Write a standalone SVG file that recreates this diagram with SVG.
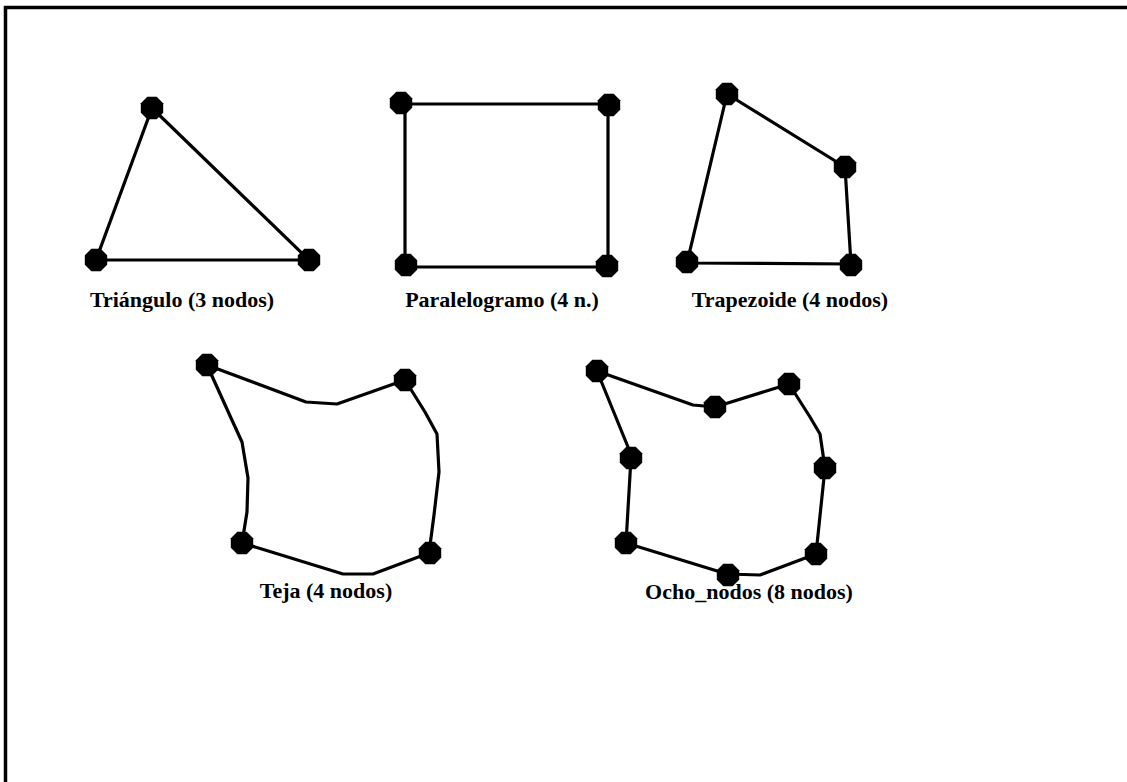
<svg xmlns="http://www.w3.org/2000/svg" xmlns:xlink="http://www.w3.org/1999/xlink" width="1127" height="782" viewBox="0 0 1127 782">
<style>
.e{fill:none;stroke:#000;stroke-width:3.2;stroke-linejoin:round;stroke-linecap:round}
.lbl{font-family:"Liberation Serif","Times New Roman",serif;font-weight:bold;font-size:22px;fill:#000;text-anchor:middle}
.nd{fill:#000}
</style>
<defs>
<polygon id="oct" points="-4.7,-11.2 4.7,-11.2 11.2,-4.7 11.2,4.7 4.7,11.2 -4.7,11.2 -11.2,4.7 -11.2,-4.7"/>
</defs>
<rect width="1127" height="782" fill="#fff"/>
<path d="M5.5,782 V7.5 H1127" fill="none" stroke="#000" stroke-width="3.5"/>

<g id="connectors">
  <!-- Triangulo -->
  <path class="e" d="M152,108 L96,260 L309,260 Z"/>
  <!-- Paralelogramo -->
  <path class="e" d="M402,104 H608 V267 H405 V104"/>
  <!-- Trapezoide -->
  <path class="e" d="M727,94 L845,167 L851,264 L687,263 Z"/>
  <!-- Teja -->
  <path class="e" d="M207,365 L306,402 L337,404 L405,380"/>
  <path class="e" d="M405,380 L425,412 L437,434 L439,472 L434,515 L429,553"/>
  <path class="e" d="M242,543 L343,574 L373,574 L429,553"/>
  <path class="e" d="M207,365 L231,418 L242,442 L248,478 L247,512 L242,543"/>
  <!-- Ocho_nodos -->
  <path class="e" d="M597,371 L693,405 L715,407"/>
  <path class="e" d="M715,407 L789,384"/>
  <path class="e" d="M789,384 L810,417 L820,434 L825,468"/>
  <path class="e" d="M825,468 L816,554"/>
  <path class="e" d="M816,554 L760,575 L727,574"/>
  <path class="e" d="M727,574 L626,543"/>
  <path class="e" d="M626,543 L631,458"/>
  <path class="e" d="M631,458 L628,447 L597,371"/>
</g>

<g id="triangulo">
  <g id="tri-n1"><use xlink:href="#oct" class="nd" x="152" y="108"/></g>
  <g id="tri-n2"><use xlink:href="#oct" class="nd" x="96" y="260"/></g>
  <g id="tri-n3"><use xlink:href="#oct" class="nd" x="309" y="260"/></g>
  <text class="lbl" x="182" y="307">Triángulo (3 nodos)</text>
</g>

<g id="paralelogramo">
  <g id="par-n1"><use xlink:href="#oct" class="nd" x="401" y="103"/></g>
  <g id="par-n2"><use xlink:href="#oct" class="nd" x="609" y="105"/></g>
  <g id="par-n3"><use xlink:href="#oct" class="nd" x="406" y="265"/></g>
  <g id="par-n4"><use xlink:href="#oct" class="nd" x="607" y="266"/></g>
  <text class="lbl" x="502" y="307">Paralelogramo (4 n.)</text>
</g>

<g id="trapezoide">
  <g id="tra-n1"><use xlink:href="#oct" class="nd" x="727" y="94"/></g>
  <g id="tra-n2"><use xlink:href="#oct" class="nd" x="845" y="167"/></g>
  <g id="tra-n3"><use xlink:href="#oct" class="nd" x="687" y="262"/></g>
  <g id="tra-n4"><use xlink:href="#oct" class="nd" x="851" y="265"/></g>
  <text class="lbl" x="790" y="307">Trapezoide (4 nodos)</text>
</g>

<g id="teja">
  <g id="tej-n1"><use xlink:href="#oct" class="nd" x="207" y="365"/></g>
  <g id="tej-n2"><use xlink:href="#oct" class="nd" x="405" y="380"/></g>
  <g id="tej-n3"><use xlink:href="#oct" class="nd" x="242" y="543"/></g>
  <g id="tej-n4"><use xlink:href="#oct" class="nd" x="430" y="553"/></g>
  <text class="lbl" x="326" y="598">Teja (4 nodos)</text>
</g>

<g id="ocho_nodos">
  <g id="och-n1"><use xlink:href="#oct" class="nd" x="597" y="371"/></g>
  <g id="och-n2"><use xlink:href="#oct" class="nd" x="715" y="407"/></g>
  <g id="och-n3"><use xlink:href="#oct" class="nd" x="789" y="384"/></g>
  <g id="och-n4"><use xlink:href="#oct" class="nd" x="631" y="458"/></g>
  <g id="och-n5"><use xlink:href="#oct" class="nd" x="825" y="468"/></g>
  <g id="och-n6"><use xlink:href="#oct" class="nd" x="626" y="543"/></g>
  <g id="och-n7"><use xlink:href="#oct" class="nd" x="816" y="554"/></g>
  <g id="och-n8"><use xlink:href="#oct" class="nd" x="728" y="575"/></g>
  <text class="lbl" x="749" y="599">Ocho_nodos (8 nodos)</text>
</g>
</svg>
